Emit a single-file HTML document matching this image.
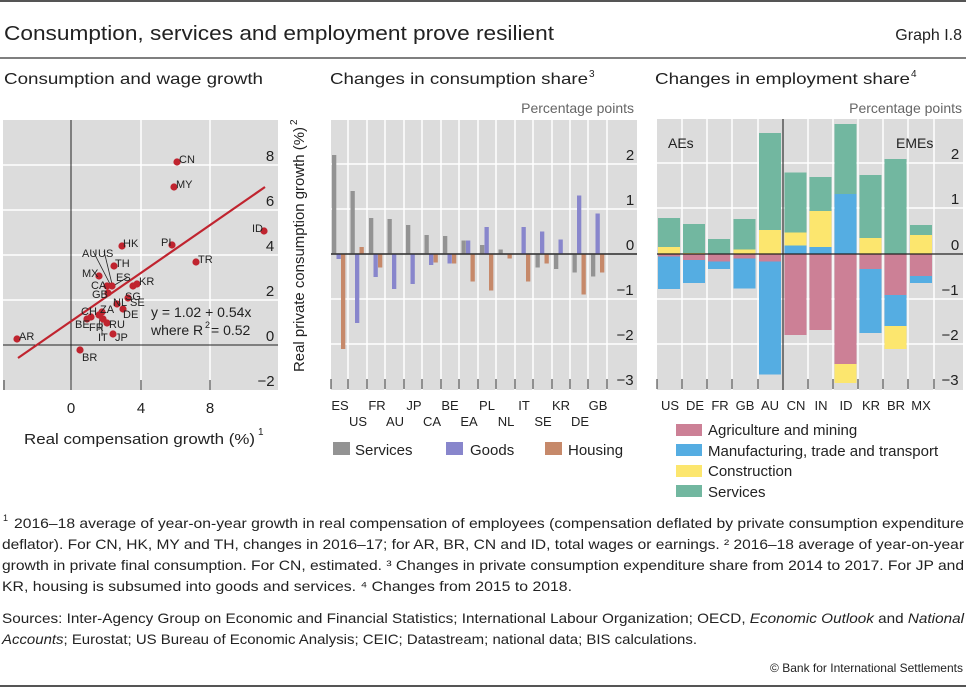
<!DOCTYPE html>
<html><head><meta charset="utf-8"><style>
html,body{margin:0;padding:0;background:#fff}
svg{display:block;font-family:"Liberation Sans",sans-serif}
</style></head><body>
<svg width="966" height="688" viewBox="0 0 966 688" xmlns="http://www.w3.org/2000/svg">
<line x1="0" y1="1" x2="966" y2="1" stroke="#555" stroke-width="2"/>
<text x="4" y="40" font-size="20" fill="#222" textLength="550" lengthAdjust="spacingAndGlyphs">Consumption, services and employment prove resilient</text>
<text x="962" y="40" font-size="16" fill="#222" text-anchor="end">Graph I.8</text>
<line x1="0" y1="58" x2="966" y2="58" stroke="#555" stroke-width="1.5"/>
<text x="4" y="84" font-size="16" fill="#222" textLength="259" lengthAdjust="spacingAndGlyphs">Consumption and wage growth</text>
<text x="330" y="84" font-size="16" fill="#222" textLength="258" lengthAdjust="spacingAndGlyphs">Changes in consumption share</text>
<text x="589" y="77" font-size="10" fill="#222">3</text>
<text x="655" y="84" font-size="16" fill="#222" textLength="255" lengthAdjust="spacingAndGlyphs">Changes in employment share</text>
<text x="911" y="77" font-size="10" fill="#222">4</text>
<text x="634" y="113" font-size="14" fill="#666" text-anchor="end">Percentage points</text>
<text x="962" y="113" font-size="14" fill="#666" text-anchor="end">Percentage points</text>

<!-- LEFT PANEL -->
<rect x="3" y="120" width="275" height="270" fill="#dcdcdc"/>
<g stroke="#fff" stroke-width="1.5">
<line x1="3" y1="165" x2="278" y2="165"/><line x1="3" y1="210" x2="278" y2="210"/>
<line x1="3" y1="255" x2="278" y2="255"/><line x1="3" y1="300" x2="278" y2="300"/>
<line x1="141" y1="120" x2="141" y2="390"/><line x1="210" y1="120" x2="210" y2="390"/>
</g>
<line x1="3" y1="345" x2="278" y2="345" stroke="#222" stroke-width="1"/>
<line x1="71" y1="120" x2="71" y2="390" stroke="#222" stroke-width="1"/>
<g stroke="#333"><line x1="4" y1="380" x2="4" y2="390"/><line x1="71" y1="380" x2="71" y2="390"/><line x1="141" y1="380" x2="141" y2="390"/><line x1="210" y1="380" x2="210" y2="390"/></g>
<g font-size="15" fill="#222" text-anchor="middle">
<text x="270" y="161">8</text><text x="270" y="206">6</text><text x="270" y="251">4</text><text x="270" y="296">2</text><text x="270" y="341">0</text><text x="266" y="386">−2</text>
<text x="71" y="413">0</text><text x="141" y="413">4</text><text x="210" y="413">8</text>
</g>
<text x="24" y="444" font-size="15" fill="#222" textLength="231" lengthAdjust="spacingAndGlyphs">Real compensation growth (%)</text>
<text x="258" y="435" font-size="10" fill="#222">1</text>
<text transform="translate(304,372) rotate(-90)" font-size="15" fill="#222" textLength="245" lengthAdjust="spacingAndGlyphs">Real private consumption growth (%)</text>
<text transform="translate(297,125) rotate(-90)" font-size="10" fill="#222">2</text>
<g stroke="#222" stroke-width="0.8">
<line x1="93" y1="251" x2="110" y2="284"/><line x1="104" y1="251" x2="112" y2="284"/>
<line x1="128" y1="277" x2="113" y2="286"/>
<line x1="99" y1="330" x2="100" y2="314"/><line x1="102" y1="336" x2="102" y2="316"/>
</g>
<g fill="#c0242f">
<circle cx="177" cy="162" r="3.6"/><circle cx="174" cy="187" r="3.6"/><circle cx="264" cy="231" r="3.6"/>
<circle cx="172" cy="245" r="3.6"/><circle cx="122" cy="246" r="3.6"/><circle cx="196" cy="262" r="3.6"/>
<circle cx="114" cy="266" r="3.6"/><circle cx="99" cy="276" r="3.6"/><circle cx="112" cy="286" r="3.6"/>
<circle cx="107" cy="286" r="3.6"/><circle cx="137" cy="284" r="3.6"/><circle cx="133" cy="286" r="3.6"/>
<circle cx="108" cy="293" r="3.6"/><circle cx="128" cy="298" r="3.6"/><circle cx="117" cy="304" r="3.6"/>
<circle cx="123" cy="309" r="3.6"/><circle cx="102" cy="312" r="3.6"/><circle cx="99" cy="315" r="3.6"/>
<circle cx="91" cy="317" r="3.6"/><circle cx="87" cy="319" r="3.6"/><circle cx="103" cy="319" r="3.6"/>
<circle cx="107" cy="323" r="3.6"/><circle cx="113" cy="334" r="3.6"/><circle cx="17" cy="339" r="3.6"/>
<circle cx="80" cy="350" r="3.6"/>
</g>
<line x1="18" y1="358" x2="265" y2="187" stroke="#c0242f" stroke-width="2.2"/>
<g font-size="11" fill="#222">
<text x="179" y="163">CN</text><text x="176" y="188">MY</text><text x="252" y="232">ID</text>
<text x="161" y="246">PI</text><text x="123" y="247">HK</text><text x="198" y="263">TR</text>
<text x="115" y="267">TH</text><text x="82" y="277">MX</text><text x="116" y="281">ES</text>
<text x="82" y="257">AU</text><text x="98" y="257">US</text><text x="91" y="289">CA</text>
<text x="139" y="285">KR</text><text x="92" y="298">GB</text><text x="125" y="300">SG</text>
<text x="113" y="306">NL</text><text x="130" y="306">SE</text><text x="123" y="318">DE</text>
<text x="100" y="313">ZA</text><text x="81" y="315">CH</text><text x="75" y="328">BE</text>
<text x="89" y="331">FR</text><text x="109" y="328">RU</text><text x="115" y="341">JP</text>
<text x="98" y="341">IT</text><text x="19" y="340">AR</text><text x="82" y="361">BR</text>
</g>
<g font-size="14" fill="#222"><text x="151" y="317">y = 1.02 + 0.54x</text><text x="151" y="335">where R</text><text x="205" y="328" font-size="9">2</text><text x="211" y="335">= 0.52</text></g>

<!-- MIDDLE PANEL -->
<rect x="331" y="120" width="306" height="270" fill="#dcdcdc"/>
<g stroke="#fff" stroke-width="1.5">
<line x1="331" y1="164" x2="637" y2="164"/><line x1="331" y1="209" x2="637" y2="209"/>
<line x1="331" y1="299" x2="637" y2="299"/><line x1="331" y1="344" x2="637" y2="344"/>
<line x1="348" y1="120" x2="348" y2="390"/><line x1="367" y1="120" x2="367" y2="390"/><line x1="385" y1="120" x2="385" y2="390"/><line x1="404" y1="120" x2="404" y2="390"/><line x1="422" y1="120" x2="422" y2="390"/><line x1="441" y1="120" x2="441" y2="390"/><line x1="459" y1="120" x2="459" y2="390"/><line x1="478" y1="120" x2="478" y2="390"/><line x1="496" y1="120" x2="496" y2="390"/><line x1="515" y1="120" x2="515" y2="390"/><line x1="533" y1="120" x2="533" y2="390"/><line x1="552" y1="120" x2="552" y2="390"/><line x1="570" y1="120" x2="570" y2="390"/><line x1="588" y1="120" x2="588" y2="390"/><line x1="607" y1="120" x2="607" y2="390"/>
</g>
<g stroke="#333"><line x1="331" y1="379" x2="331" y2="389"/><line x1="348" y1="379" x2="348" y2="389"/><line x1="367" y1="379" x2="367" y2="389"/><line x1="385" y1="379" x2="385" y2="389"/><line x1="404" y1="379" x2="404" y2="389"/><line x1="422" y1="379" x2="422" y2="389"/><line x1="441" y1="379" x2="441" y2="389"/><line x1="459" y1="379" x2="459" y2="389"/><line x1="478" y1="379" x2="478" y2="389"/><line x1="496" y1="379" x2="496" y2="389"/><line x1="515" y1="379" x2="515" y2="389"/><line x1="533" y1="379" x2="533" y2="389"/><line x1="552" y1="379" x2="552" y2="389"/><line x1="570" y1="379" x2="570" y2="389"/><line x1="588" y1="379" x2="588" y2="389"/><line x1="607" y1="379" x2="607" y2="389"/></g>
<line x1="331" y1="254" x2="637" y2="254" stroke="#222" stroke-width="1.2"/>
<g font-size="15" fill="#222" text-anchor="middle">
<text x="630" y="160">2</text><text x="630" y="205">1</text><text x="630" y="250">0</text><text x="625" y="295">−1</text><text x="625" y="340">−2</text><text x="625" y="385">−3</text>
</g>
<g font-size="13" fill="#222" text-anchor="middle">
<text x="340" y="410">ES</text><text x="377" y="410">FR</text><text x="414" y="410">JP</text><text x="450" y="410">BE</text><text x="487" y="410">PL</text><text x="524" y="410">IT</text><text x="561" y="410">KR</text><text x="598" y="410">GB</text>
<text x="358" y="426">US</text><text x="395" y="426">AU</text><text x="432" y="426">CA</text><text x="469" y="426">EA</text><text x="506" y="426">NL</text><text x="543" y="426">SE</text><text x="580" y="426">DE</text>
</g>
<g font-size="15" fill="#222">
<rect x="333" y="442" width="17" height="13" fill="#939393"/><text x="355" y="455">Services</text>
<rect x="446" y="442" width="17" height="13" fill="#8886cc"/><text x="470" y="455">Goods</text>
<rect x="545" y="442" width="17" height="13" fill="#c6896a"/><text x="568" y="455">Housing</text>
</g>

<!-- RIGHT PANEL -->
<rect x="657" y="119" width="306" height="271" fill="#dcdcdc"/>
<g stroke="#fff" stroke-width="1.5">
<line x1="657" y1="163" x2="963" y2="163"/><line x1="657" y1="208" x2="963" y2="208"/>
<line x1="657" y1="299" x2="963" y2="299"/><line x1="657" y1="344" x2="963" y2="344"/>
<line x1="682" y1="119" x2="682" y2="390"/><line x1="707" y1="119" x2="707" y2="390"/><line x1="732" y1="119" x2="732" y2="390"/><line x1="758" y1="119" x2="758" y2="390"/><line x1="808" y1="119" x2="808" y2="390"/><line x1="833" y1="119" x2="833" y2="390"/><line x1="858" y1="119" x2="858" y2="390"/><line x1="883" y1="119" x2="883" y2="390"/><line x1="908" y1="119" x2="908" y2="390"/><line x1="934" y1="119" x2="934" y2="390"/>
</g>
<g stroke="#333"><line x1="657" y1="379" x2="657" y2="389"/><line x1="682" y1="379" x2="682" y2="389"/><line x1="707" y1="379" x2="707" y2="389"/><line x1="732" y1="379" x2="732" y2="389"/><line x1="758" y1="379" x2="758" y2="389"/><line x1="808" y1="379" x2="808" y2="389"/><line x1="833" y1="379" x2="833" y2="389"/><line x1="858" y1="379" x2="858" y2="389"/><line x1="883" y1="379" x2="883" y2="389"/><line x1="908" y1="379" x2="908" y2="389"/><line x1="934" y1="379" x2="934" y2="389"/></g>
<g font-size="15" fill="#222" text-anchor="middle">
<text x="955" y="159">2</text><text x="955" y="204">1</text><text x="955" y="250">0</text><text x="950" y="295">−1</text><text x="950" y="340">−2</text><text x="950" y="385">−3</text>
</g>
<text x="668" y="148" font-size="14" fill="#222">AEs</text>
<text x="896" y="148" font-size="14" fill="#222">EMEs</text>
<g font-size="13" fill="#222" text-anchor="middle">
<text x="670" y="410">US</text><text x="695" y="410">DE</text><text x="720" y="410">FR</text><text x="745" y="410">GB</text><text x="770" y="410">AU</text><text x="796" y="410">CN</text><text x="821" y="410">IN</text><text x="846" y="410">ID</text><text x="871" y="410">KR</text><text x="896" y="410">BR</text><text x="921" y="410">MX</text>
</g>
<g font-size="15" fill="#222">
<rect x="676" y="424" width="26" height="12" fill="#cc8096"/><text x="708" y="435">Agriculture and mining</text>
<rect x="676" y="444" width="26" height="12" fill="#55ade2"/><text x="708" y="456">Manufacturing, trade and transport</text>
<rect x="676" y="465" width="26" height="12" fill="#fce66e"/><text x="708" y="476">Construction</text>
<rect x="676" y="485" width="26" height="12" fill="#72b7a0"/><text x="708" y="497">Services</text>
</g>

<!-- FOOTNOTES -->
<g font-size="14" fill="#222">
<text x="3" y="521" font-size="9">1</text>
<text x="14" y="528" textLength="950" lengthAdjust="spacingAndGlyphs">2016–18 average of year-on-year growth in real compensation of employees (compensation deflated by private consumption expenditure</text>
<text x="2" y="549" textLength="962" lengthAdjust="spacingAndGlyphs">deflator). For CN, HK, MY and TH, changes in 2016–17; for AR, BR, CN and ID, total wages or earnings.    ² 2016–18 average of year-on-year</text>
<text x="2" y="570" textLength="962" lengthAdjust="spacingAndGlyphs">growth in private final consumption. For CN, estimated.    ³ Changes in private consumption expenditure share from 2014 to 2017. For JP and</text>
<text x="2" y="591" textLength="570" lengthAdjust="spacingAndGlyphs">KR, housing is subsumed into goods and services.    ⁴ Changes from 2015 to 2018.</text>
<text x="2" y="623" textLength="962" lengthAdjust="spacingAndGlyphs">Sources: Inter-Agency Group on Economic and Financial Statistics; International Labour Organization; OECD, <tspan font-style="italic">Economic Outlook</tspan> and <tspan font-style="italic">National</tspan></text>
<text x="2" y="644" textLength="695" lengthAdjust="spacingAndGlyphs"><tspan font-style="italic">Accounts</tspan>; Eurostat; US Bureau of Economic Analysis; CEIC; Datastream; national data; BIS calculations.</text>
<text x="963" y="672" font-size="12" text-anchor="end">© Bank for International Settlements</text>
</g>
<line x1="0" y1="686" x2="966" y2="686" stroke="#555" stroke-width="2"/>

<!-- middle bars -->
<g>
<rect x="332" y="155" width="4.3" height="99" fill="#939393"/><rect x="336.5" y="254" width="4.3" height="5" fill="#8886cc"/><rect x="341" y="254" width="4.3" height="95" fill="#c6896a"/>
<rect x="350.5" y="191" width="4.3" height="63" fill="#939393"/><rect x="355" y="254" width="4.3" height="69" fill="#8886cc"/><rect x="359.5" y="247" width="4.3" height="7" fill="#c6896a"/>
<rect x="369" y="218" width="4.3" height="36" fill="#939393"/><rect x="373.5" y="254" width="4.3" height="23" fill="#8886cc"/><rect x="378" y="254" width="4.3" height="13.5" fill="#c6896a"/>
<rect x="387.5" y="219" width="4.3" height="35" fill="#939393"/><rect x="392" y="254" width="4.3" height="35" fill="#8886cc"/>
<rect x="406" y="225" width="4.3" height="29" fill="#939393"/><rect x="410.5" y="254" width="4.3" height="30" fill="#8886cc"/>
<rect x="424.5" y="235" width="4.3" height="19" fill="#939393"/><rect x="429" y="254" width="4.3" height="11" fill="#8886cc"/><rect x="433.5" y="254" width="4.3" height="8.5" fill="#c6896a"/>
<rect x="443" y="236" width="4.3" height="18" fill="#939393"/><rect x="447.5" y="254" width="4.3" height="9.5" fill="#8886cc"/><rect x="452" y="254" width="4.3" height="9.5" fill="#c6896a"/>
<rect x="461.5" y="240.5" width="4.3" height="13.5" fill="#939393"/><rect x="466" y="240.5" width="4.3" height="13.5" fill="#8886cc"/><rect x="470.5" y="254" width="4.3" height="27.5" fill="#c6896a"/>
<rect x="480" y="245" width="4.3" height="9" fill="#939393"/><rect x="484.5" y="227" width="4.3" height="27" fill="#8886cc"/><rect x="489" y="254" width="4.3" height="36.5" fill="#c6896a"/>
<rect x="498.5" y="249.5" width="4.3" height="4.5" fill="#939393"/><rect x="507.5" y="254" width="4.3" height="4.5" fill="#c6896a"/>
<rect x="521.5" y="227" width="4.3" height="27" fill="#8886cc"/><rect x="526" y="254" width="4.3" height="27.5" fill="#c6896a"/>
<rect x="535.5" y="254" width="4.3" height="13.5" fill="#939393"/><rect x="540" y="231.5" width="4.3" height="22.5" fill="#8886cc"/><rect x="544.5" y="254" width="4.3" height="9.5" fill="#c6896a"/>
<rect x="554" y="254" width="4.3" height="15" fill="#939393"/><rect x="558.5" y="239.5" width="4.3" height="14.5" fill="#8886cc"/>
<rect x="572.5" y="254" width="4.3" height="18.5" fill="#939393"/><rect x="577" y="195.5" width="4.3" height="58.5" fill="#8886cc"/><rect x="581.5" y="254" width="4.3" height="40.5" fill="#c6896a"/>
<rect x="591" y="254" width="4.3" height="22.5" fill="#939393"/><rect x="595.5" y="213.5" width="4.3" height="40.5" fill="#8886cc"/><rect x="600" y="254" width="4.3" height="18.5" fill="#c6896a"/>
</g>
<line x1="331" y1="254" x2="637" y2="254" stroke="#222" stroke-width="1.2"/>

<!-- right bars -->
<g>
<rect x="658" y="247" width="22" height="7" fill="#fce66e"/><rect x="658" y="218" width="22" height="29" fill="#72b7a0"/><rect x="658" y="254" width="22" height="2.5" fill="#cc8096"/><rect x="658" y="256.5" width="22" height="32.5" fill="#55ade2"/>
<rect x="683" y="253" width="22" height="1" fill="#fce66e"/><rect x="683" y="224" width="22" height="29" fill="#72b7a0"/><rect x="683" y="254" width="22" height="6" fill="#cc8096"/><rect x="683" y="260" width="22" height="23" fill="#55ade2"/>
<rect x="708" y="239" width="22" height="15" fill="#72b7a0"/><rect x="708" y="254" width="22" height="7.5" fill="#cc8096"/><rect x="708" y="261.5" width="22" height="7.5" fill="#55ade2"/>
<rect x="733.5" y="249.5" width="22" height="4.5" fill="#fce66e"/><rect x="733.5" y="219" width="22" height="30.5" fill="#72b7a0"/><rect x="733.5" y="254" width="22" height="4.5" fill="#cc8096"/><rect x="733.5" y="258.5" width="22" height="30" fill="#55ade2"/>
<rect x="759" y="230" width="22" height="24" fill="#fce66e"/><rect x="759" y="133" width="22" height="97" fill="#72b7a0"/><rect x="759" y="254" width="22" height="7.5" fill="#cc8096"/><rect x="759" y="261.5" width="22" height="113" fill="#55ade2"/>
<rect x="784.5" y="245.5" width="22" height="8.5" fill="#55ade2"/><rect x="784.5" y="232.5" width="22" height="13" fill="#fce66e"/><rect x="784.5" y="172.5" width="22" height="60" fill="#72b7a0"/><rect x="784.5" y="254" width="22" height="81" fill="#cc8096"/>
<rect x="809.5" y="247" width="22" height="7" fill="#55ade2"/><rect x="809.5" y="211" width="22" height="36" fill="#fce66e"/><rect x="809.5" y="177" width="22" height="34" fill="#72b7a0"/><rect x="809.5" y="254" width="22" height="76" fill="#cc8096"/>
<rect x="834.5" y="194" width="22" height="60" fill="#55ade2"/><rect x="834.5" y="124" width="22" height="70" fill="#72b7a0"/><rect x="834.5" y="254" width="22" height="110" fill="#cc8096"/><rect x="834.5" y="364" width="22" height="19" fill="#fce66e"/>
<rect x="859.5" y="238" width="22" height="16" fill="#fce66e"/><rect x="859.5" y="175" width="22" height="63" fill="#72b7a0"/><rect x="859.5" y="254" width="22" height="15" fill="#cc8096"/><rect x="859.5" y="269" width="22" height="64" fill="#55ade2"/>
<rect x="884.5" y="159" width="22" height="95" fill="#72b7a0"/><rect x="884.5" y="254" width="22" height="41" fill="#cc8096"/><rect x="884.5" y="295" width="22" height="31" fill="#55ade2"/><rect x="884.5" y="326" width="22" height="23" fill="#fce66e"/>
<rect x="910" y="235" width="22" height="19" fill="#fce66e"/><rect x="910" y="225" width="22" height="10" fill="#72b7a0"/><rect x="910" y="254" width="22" height="22" fill="#cc8096"/><rect x="910" y="276" width="22" height="7" fill="#55ade2"/>
</g>
<line x1="783" y1="119" x2="783" y2="390" stroke="#333" stroke-width="1.2"/>
<line x1="657" y1="254" x2="963" y2="254" stroke="#222" stroke-width="1.2"/>
</svg>
</body></html>
